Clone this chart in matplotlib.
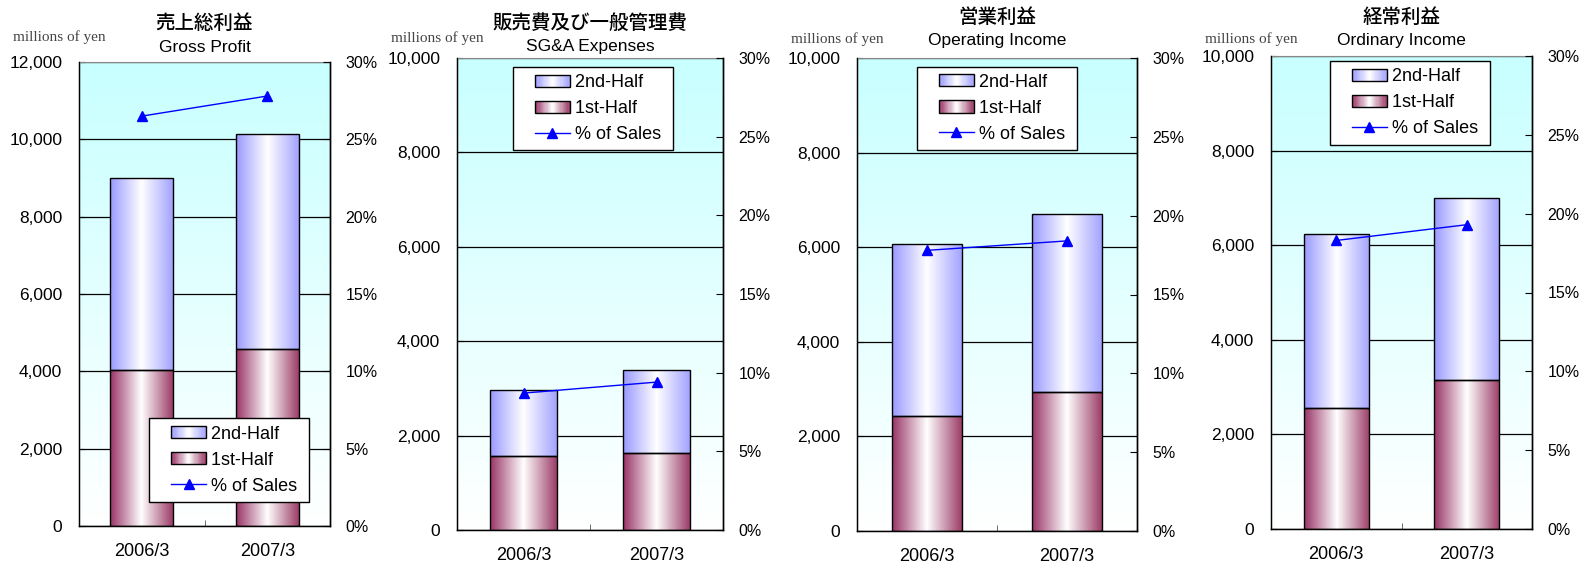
import numpy as np
import matplotlib
matplotlib.use("Agg")
import matplotlib.pyplot as plt
from matplotlib.colors import LinearSegmentedColormap
from matplotlib.legend_handler import HandlerBase
from matplotlib.patches import Rectangle
from matplotlib.lines import Line2D
from matplotlib.ticker import FuncFormatter, MultipleLocator, FixedLocator

plt.rcParams["font.family"] = ["Liberation Sans", "Noto Sans CJK JP", "DejaVu Sans"]

# ---- data ----
years = ["2006/3", "2007/3"]
titles_jp = ["売上総利益", "販売費及び一般管理費", "営業利益", "経常利益"]
titles_en = ["Gross Profit", "SG&A Expenses", "Operating Income", "Ordinary Income"]
first_half = [[4040, 4580], [1570, 1640], [2440, 2930], [2550, 3140]]
second_half = [[4970, 5550], [1390, 1760], [3630, 3770], [3690, 3860]]
pct_sales = [[26.5, 27.8], [8.7, 9.4], [17.8, 18.4], [18.3, 19.3]]
y_max = [12000, 10000, 10000, 10000]

# ---- layout (pixels in a 1580x565 figure) ----
W, H = 1580, 565
boxes = [(79, 62, 330, 526), (457, 58, 723, 530), (857, 58, 1137, 531), (1271, 56, 1532, 529)]
title_y = [(23, 47), (23, 47), (17, 40), (17, 40)]
unit_y = [37, 38, 39, 39]
legend_pos = [("lower left", (0.279, 0.052)), ("upper left", (0.21, 0.981)),
              ("upper left", (0.214, 0.982)), ("upper left", (0.226, 0.989))]

blue_cmap = LinearSegmentedColormap.from_list("blue", ["#9999ff", "#ffffff", "#a3a3ff"])
maroon_cmap = LinearSegmentedColormap.from_list("maroon", ["#993366", "#ffffff", "#9c3d68"])
bg_cmap = LinearSegmentedColormap.from_list("bg", ["#ffffff", "#c8ffff"])

HANDLE_W = 25  # points, width of the drawn legend key


class GradientHandler(HandlerBase):
    def __init__(self, cmap):
        super().__init__()
        self.cmap = cmap

    def create_artists(self, legend, orig_handle, xdescent, ydescent, width, height, fontsize, trans):
        n = 30
        x0 = -xdescent + width - HANDLE_W
        artists = []
        for i in range(n):
            artists.append(Rectangle((x0 + HANDLE_W * i / n, -ydescent), HANDLE_W / n + 0.3, height,
                                     facecolor=self.cmap((i + 0.5) / n), edgecolor="none", transform=trans))
        artists.append(Rectangle((x0, -ydescent), HANDLE_W, height, facecolor="none",
                                 edgecolor="black", lw=1.0, transform=trans))
        return artists


class ShortLineHandler(HandlerBase):
    def create_artists(self, legend, orig_handle, xdescent, ydescent, width, height, fontsize, trans):
        x0 = -xdescent + width - HANDLE_W
        yc = -ydescent + height / 2
        ln = Line2D([x0, x0 + HANDLE_W], [yc, yc], color=orig_handle.get_color(), lw=1.0, transform=trans)
        mk = Line2D([x0 + HANDLE_W / 2], [yc], marker="^", markersize=7, color=orig_handle.get_color(),
                    linestyle="none", transform=trans)
        return [ln, mk]


def gradient_fill(ax, bars, cmap):
    grad = np.linspace(0, 1, 256).reshape(1, -1)
    for bar in bars:
        x, y = bar.get_x(), bar.get_y()
        w, h = bar.get_width(), bar.get_height()
        im = ax.imshow(grad, cmap=cmap, extent=(x, x + w, y, y + h), aspect="auto",
                       zorder=1.5, interpolation="bilinear")
        im.set_clip_path(bar)


fig = plt.figure(figsize=(W / 100, H / 100), dpi=100)

for i in range(4):
    l, t, r, b = boxes[i]
    ax = fig.add_axes([l / W, 1 - b / H, (r - l) / W, (b - t) / H])
    x = np.arange(len(years))

    # background gradient
    bg = np.linspace(0, 1, 256).reshape(-1, 1)
    ax.imshow(bg, cmap=bg_cmap, extent=(0, 1, 0, 1), origin="lower", aspect="auto",
              transform=ax.transAxes, zorder=0)

    bars1 = ax.bar(x, first_half[i], width=0.5, facecolor="none", edgecolor="black", lw=1.0, zorder=2)
    bars2 = ax.bar(x, second_half[i], width=0.5, bottom=first_half[i], facecolor="none",
                   edgecolor="black", lw=1.0, zorder=2)
    gradient_fill(ax, bars1, maroon_cmap)
    gradient_fill(ax, bars2, blue_cmap)

    ax.set_xlim(-0.5, 1.5)
    ax.set_ylim(0, y_max[i])
    ax.yaxis.set_major_locator(MultipleLocator(2000))
    ax.yaxis.set_major_formatter(FuncFormatter(lambda v, p: f"{int(v):,}"))
    ax.grid(axis="y", color="black", lw=0.9)
    ax.set_axisbelow(True)
    ax.tick_params(axis="y", direction="in", length=4, pad=12, labelsize=12.5)
    ax.set_xticks(x)
    ax.set_xticklabels(years)
    ax.tick_params(axis="x", which="major", length=0, pad=12, labelsize=13)
    ax.xaxis.set_minor_locator(FixedLocator([0.5]))
    ax.tick_params(axis="x", which="minor", direction="in", length=4, color="#555555")
    for s in ["left", "bottom", "right"]:
        ax.spines[s].set_color("black")
        ax.spines[s].set_lw(1.0)
    ax.spines["top"].set_color("#888888")

    ax2 = ax.twinx()
    line, = ax2.plot(x, pct_sales[i], color="#0000ff", lw=1.0, marker="^", markersize=7,
                     markerfacecolor="#0000ff", markeredgecolor="#0000ff")
    ax2.set_ylim(0, 30)
    ax2.yaxis.set_major_locator(MultipleLocator(5))
    ax2.yaxis.set_major_formatter(FuncFormatter(lambda v, p: f"{int(v)}%"))
    ax2.tick_params(axis="y", direction="in", length=5, pad=11, labelsize=11.5)
    ax2.spines["right"].set_lw(1.0)
    ax2.spines["top"].set_visible(False)

    p_blue = Rectangle((0, 0), 1, 1)
    p_maroon = Rectangle((0, 0), 1, 1)
    loc, anchor = legend_pos[i]
    leg = ax2.legend([p_blue, p_maroon, line], ["2nd-Half ", "1st-Half ", "% of Sales "],
                     handler_map={p_blue: GradientHandler(blue_cmap), p_maroon: GradientHandler(maroon_cmap),
                                  line: ShortLineHandler()},
                     loc=loc, bbox_to_anchor=anchor, borderaxespad=0, fontsize=13,
                     frameon=True, fancybox=False, framealpha=1, edgecolor="black",
                     handlelength=2.75, handleheight=0.66, handletextpad=0.28,
                     labelspacing=0.5, borderpad=0.4)
    leg.get_frame().set_lw(1.0)

    cx = (l + r) / 2 / W
    fig.text(cx, 1 - title_y[i][0] / H, titles_jp[i], ha="center", va="center", fontsize=14,
             family=["Noto Sans CJK JP", "DejaVu Sans"], fontweight="medium")
    fig.text(cx, 1 - title_y[i][1] / H, titles_en[i], ha="center", va="center", fontsize=12.5,
             family=["Liberation Sans", "DejaVu Sans"])
    fig.text((l + 27) / W, 1 - unit_y[i] / H, "millions of yen", ha="right", va="center",
             fontsize=11, family="Liberation Serif", color="#444444")

fig.savefig("out.png", dpi=100)
